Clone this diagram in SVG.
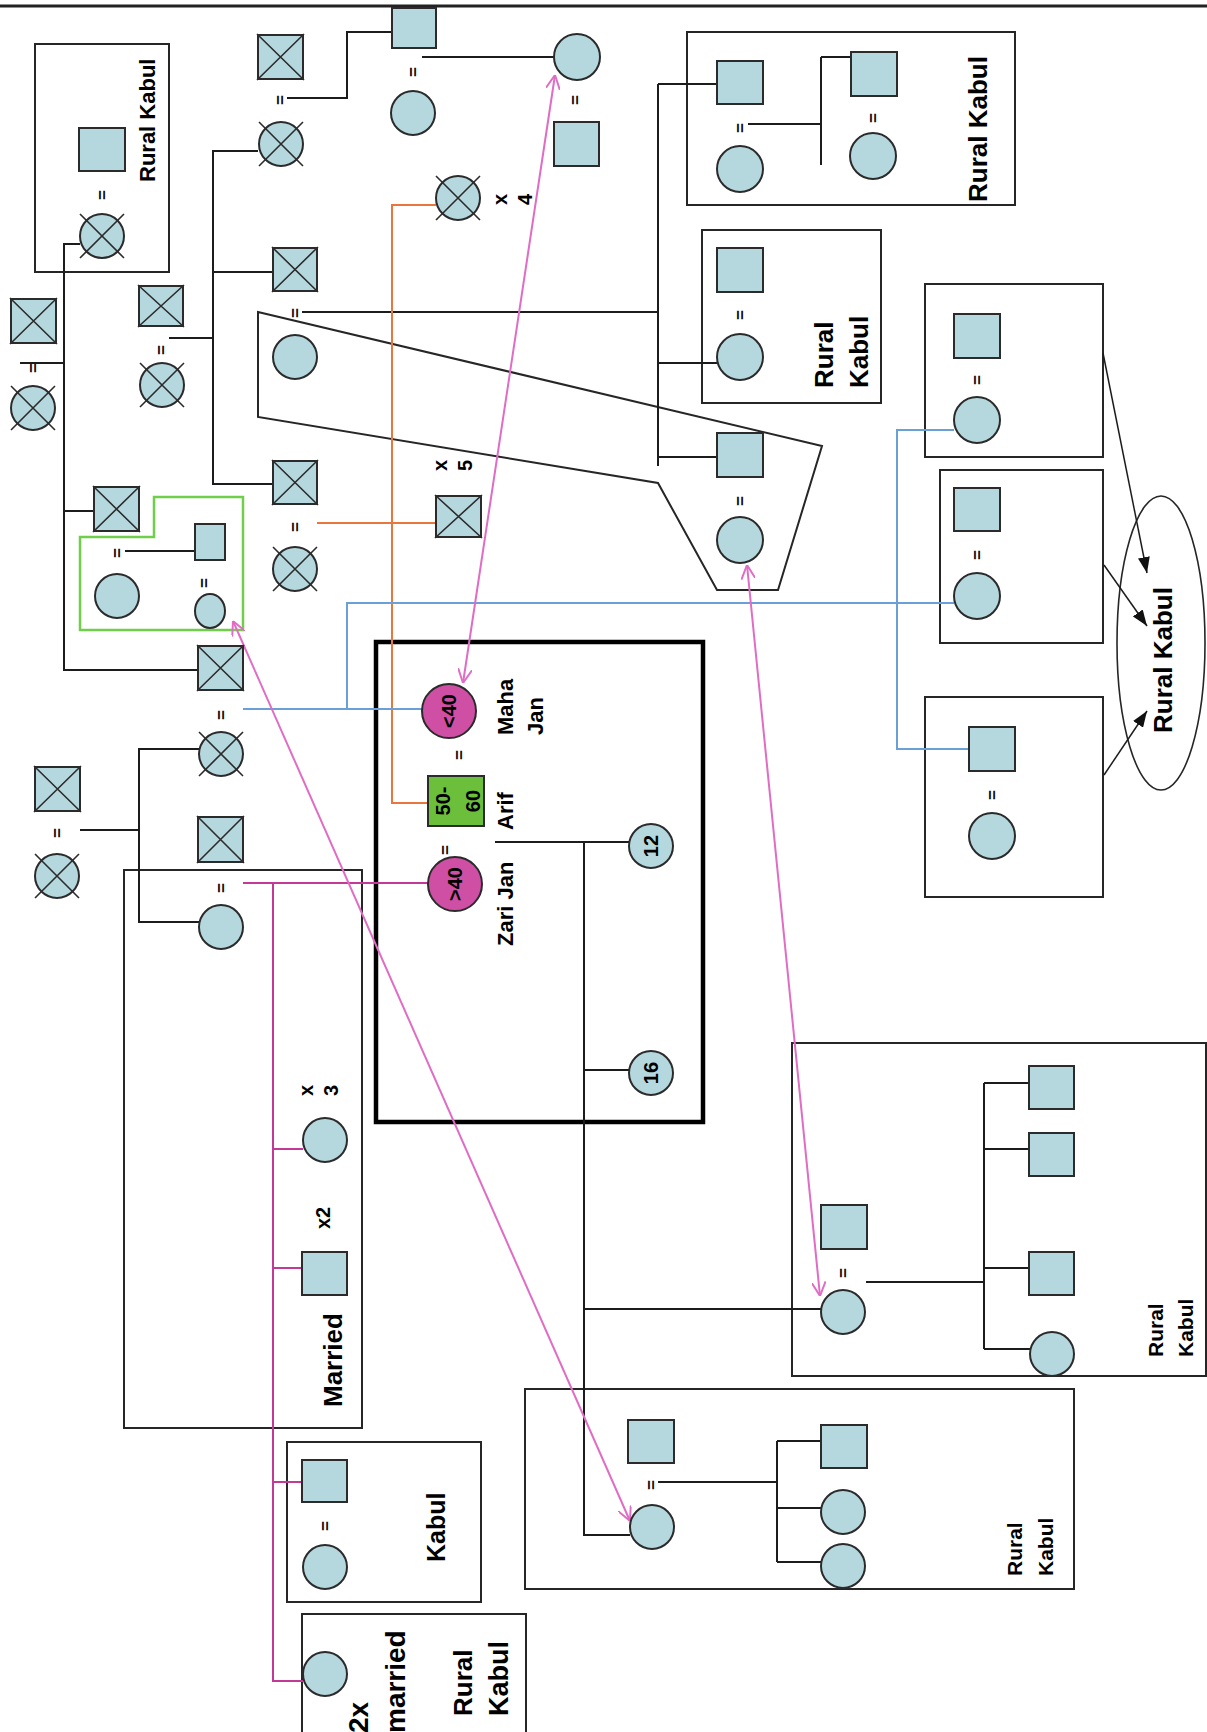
<svg xmlns="http://www.w3.org/2000/svg" width="1207" height="1732" viewBox="0 0 1207 1732">
<defs>
<style>
.n{fill:#b5d8de;stroke:#2b2b2b;stroke-width:2}
.xl{fill:none;stroke:#2b2b2b;stroke-width:1.6}
.mg-n{fill:#cf4fa5;stroke:#2b2b2b;stroke-width:2}
.gr-n{fill:#6cbf3a;stroke:#2b2b2b;stroke-width:2}
.bx{fill:none;stroke:#262626;stroke-width:2}
.ln{fill:none;stroke:#1c1c1c;stroke-width:2}
.or{fill:none;stroke:#e8763f;stroke-width:2}
.bl{fill:none;stroke:#6a9fd8;stroke-width:2}
.mg{fill:none;stroke:#c23a95;stroke-width:2}
.pk{fill:none;stroke:#e06cc4;stroke-width:2;marker-start:url(#pa);marker-end:url(#pa)}
.ar{fill:none;stroke:#1c1c1c;stroke-width:1.5;marker-end:url(#ba)}
.t{font-family:"Liberation Sans",Arial,sans-serif;font-weight:bold;fill:#000}
.eq{font-family:"Liberation Sans",Arial,sans-serif;font-size:17px;font-weight:bold;fill:#111;text-anchor:middle}
.c{text-anchor:middle}
</style>
<marker id="pa" viewBox="0 0 10 10" refX="10" refY="5" markerWidth="14" markerHeight="14" markerUnits="userSpaceOnUse" orient="auto-start-reverse"><path d="M0,0 L10,5 L0,10" fill="none" stroke="#e06cc4" stroke-width="1.4"/></marker>
<marker id="ba" viewBox="0 0 10 10" refX="10" refY="5" markerWidth="16" markerHeight="12" preserveAspectRatio="none" markerUnits="userSpaceOnUse" orient="auto"><path d="M0,0 L10,5 L0,10 z" fill="#111"/></marker>
</defs>
<rect width="1207" height="1732" fill="#fff"/>
<line x1="0" y1="6" x2="1207" y2="6" stroke="#222" stroke-width="3"/>

<g id="frames">
<rect class="bx" x="35" y="44" width="134" height="228"/>
<rect class="bx" x="687" y="32" width="328" height="173"/>
<rect class="bx" x="702" y="230" width="179" height="173"/>
<rect class="bx" x="925" y="284" width="178" height="173"/>
<rect class="bx" x="940" y="470" width="163" height="173"/>
<rect class="bx" x="925" y="697" width="178" height="200"/>
<rect class="bx" x="124" y="870" width="238" height="558"/>
<rect class="bx" x="287" y="1442" width="194" height="160"/>
<rect class="bx" x="302" y="1614" width="224" height="130"/>
<rect class="bx" x="525" y="1389" width="549" height="200"/>
<rect class="bx" x="792" y="1043" width="414" height="333"/>
<rect x="376" y="642" width="327" height="480" fill="none" stroke="#000" stroke-width="4.5"/>
<polygon class="bx" points="258,312 822,446 778,590 717,590 658,483 258,417"/>
<polygon points="154,497 243,497 243,630 80,630 80,537 154,537" fill="none" stroke="#6fcf4a" stroke-width="2.5"/>
<ellipse cx="1161" cy="643" rx="44" ry="147" fill="none" stroke="#262626" stroke-width="1.6"/>
</g>

<g id="connectors">
<path class="ln" d="M80,244 H64 V670 H198 M20,363 H64 M64,511 H94"/>
<path class="ln" d="M258,151 H213 V484 H273 M213,272 H273 M169,338 H213"/>
<path class="ln" d="M287,98 H347 V32 H392"/>
<path class="ln" d="M422,57 H554"/>
<path class="ln" d="M302,312 H658 M658,84 V466 M658,84 H717 M658,363 H717 M658,457 H717"/>
<path class="ln" d="M748,124 H821 M821,57 V165 M821,57 H851"/>
<path class="ln" d="M125,551 H195"/>
<path class="ln" d="M199,749 H139 V922 H199 M80,830 H139"/>
<path class="ln" d="M495,842 H629 M584,842 V1535 H630 M584,1070 H629 M584,1309 H821"/>
<path class="ln" d="M658,1482 H777 M777,1441 V1562 M777,1441 H821 M777,1508 H821 M777,1562 H821"/>
<path class="ln" d="M866,1282 H984 M984,1083 V1349 M984,1083 H1029 M984,1149 H1029 M984,1268 H1029 M984,1349 H1030"/>
<path class="or" d="M436,205 H392 V803 H428 M317,523 H436"/>
<path class="bl" d="M243,709 H422 M347,709 V603 H954 M954,430 H897 V749 H969"/>
<path class="mg" d="M243,883 H428 M273,883 V1681 H303 M273,1149 H303 M273,1268 H302 M273,1482 H302"/>
<line class="pk" x1="630" y1="1521" x2="233" y2="621"/>
<line class="pk" x1="463" y1="683" x2="555" y2="75"/>
<line class="pk" x1="820" y1="1296" x2="747" y2="565"/>
<line class="ar" x1="1103" y1="353" x2="1147" y2="573"/>
<line class="ar" x1="1104" y1="565" x2="1147" y2="626"/>
<line class="ar" x1="1104" y1="775" x2="1147" y2="711"/>
</g>

<g id="cs1"><rect class="n" x="258" y="35" width="45" height="44"/><path class="xl" d="M257,34 L304,80 M304,34 L257,80"/></g>
<g id="cs2"><rect class="n" x="11" y="299" width="45" height="44"/><path class="xl" d="M10,298 L57,344 M57,298 L10,344"/></g>
<g id="cs3"><rect class="n" x="139" y="286" width="44" height="40"/><path class="xl" d="M138,285 L184,327 M184,285 L138,327"/></g>
<g id="cs4"><rect class="n" x="273" y="248" width="44" height="43"/><path class="xl" d="M272,247 L318,292 M318,247 L272,292"/></g>
<g id="cs5"><rect class="n" x="273" y="461" width="44" height="43"/><path class="xl" d="M272,460 L318,505 M318,460 L272,505"/></g>
<g id="cs6"><rect class="n" x="94" y="487" width="45" height="44"/><path class="xl" d="M93,486 L140,532 M140,486 L93,532"/></g>
<g id="cs7"><rect class="n" x="198" y="646" width="45" height="44"/><path class="xl" d="M197,645 L244,691 M244,645 L197,691"/></g>
<g id="cs8"><rect class="n" x="35" y="767" width="45" height="44"/><path class="xl" d="M34,766 L81,812 M81,766 L34,812"/></g>
<g id="cs9"><rect class="n" x="198" y="817" width="45" height="45"/><path class="xl" d="M197,816 L244,863 M244,816 L197,863"/></g>
<g id="cs10"><rect class="n" x="436" y="496" width="45" height="41"/><path class="xl" d="M435,495 L482,538 M482,495 L435,538"/></g>

<g id="cc1"><circle class="n" cx="102" cy="236" r="22"/><path class="xl" d="M80,214 L124,258 M124,214 L80,258"/></g>
<g id="cc2"><circle class="n" cx="281" cy="144" r="22"/><path class="xl" d="M259,122 L303,166 M303,122 L259,166"/></g>
<g id="cc3"><circle class="n" cx="33" cy="408" r="22"/><path class="xl" d="M11,386 L55,430 M55,386 L11,430"/></g>
<g id="cc4"><circle class="n" cx="162" cy="385" r="22"/><path class="xl" d="M140,363 L184,407 M184,363 L140,407"/></g>
<g id="cc5"><circle class="n" cx="295" cy="569" r="22"/><path class="xl" d="M273,547 L317,591 M317,547 L273,591"/></g>
<g id="cc6"><circle class="n" cx="221" cy="754" r="22"/><path class="xl" d="M199,732 L243,776 M243,732 L199,776"/></g>
<g id="cc7"><circle class="n" cx="57" cy="876" r="22"/><path class="xl" d="M35,854 L79,898 M79,854 L35,898"/></g>
<g id="cc8"><circle class="n" cx="458" cy="198" r="22"/><path class="xl" d="M436,176 L480,220 M480,176 L436,220"/></g>

<g id="s1"><rect class="n" x="79" y="128" width="46" height="43"/></g>
<g id="s2"><rect class="n" x="392" y="8" width="44" height="40"/></g>
<g id="s3"><rect class="n" x="554" y="122" width="45" height="44"/></g>
<g id="s4"><rect class="n" x="717" y="61" width="46" height="43"/></g>
<g id="s5"><rect class="n" x="851" y="52" width="46" height="44"/></g>
<g id="s6"><rect class="n" x="717" y="248" width="46" height="44"/></g>
<g id="s7"><rect class="n" x="717" y="433" width="46" height="44"/></g>
<g id="s8"><rect class="n" x="954" y="314" width="46" height="44"/></g>
<g id="s9"><rect class="n" x="954" y="488" width="46" height="43"/></g>
<g id="s10"><rect class="n" x="969" y="727" width="46" height="44"/></g>
<g id="s11"><rect class="n" x="195" y="524" width="30" height="36"/></g>
<g id="s12"><rect class="n" x="302" y="1252" width="45" height="43"/></g>
<g id="s13"><rect class="n" x="302" y="1460" width="45" height="42"/></g>
<g id="s14"><rect class="n" x="628" y="1420" width="46" height="43"/></g>
<g id="s15"><rect class="n" x="821" y="1425" width="46" height="43"/></g>
<g id="s16"><rect class="n" x="821" y="1205" width="46" height="44"/></g>
<g id="s17"><rect class="n" x="1029" y="1066" width="45" height="43"/></g>
<g id="s18"><rect class="n" x="1029" y="1133" width="45" height="43"/></g>
<g id="s19"><rect class="n" x="1029" y="1252" width="45" height="43"/></g>

<g id="c1"><circle class="n" cx="413" cy="113" r="22"/></g>
<g id="c2"><circle class="n" cx="577" cy="57" r="23"/></g>
<g id="c3"><circle class="n" cx="295" cy="357" r="22"/></g>
<g id="c4"><circle class="n" cx="740" cy="169" r="23"/></g>
<g id="c5"><circle class="n" cx="873" cy="156" r="23"/></g>
<g id="c6"><circle class="n" cx="740" cy="357" r="23"/></g>
<g id="c7"><circle class="n" cx="740" cy="540" r="23"/></g>
<g id="c8"><circle class="n" cx="977" cy="420" r="23"/></g>
<g id="c9"><circle class="n" cx="977" cy="596" r="23"/></g>
<g id="c10"><circle class="n" cx="992" cy="836" r="23"/></g>
<g id="c11"><circle class="n" cx="117" cy="596" r="22"/></g>
<g id="c12"><ellipse class="n" cx="210" cy="611" rx="15" ry="17"/></g>
<g id="c13"><circle class="n" cx="221" cy="927" r="22"/></g>
<g id="c14"><circle class="n" cx="325" cy="1140" r="22"/></g>
<g id="c15"><circle class="n" cx="325" cy="1567" r="22"/></g>
<g id="c16"><circle class="n" cx="325" cy="1674" r="22"/></g>
<g id="c17"><circle class="n" cx="652" cy="1527" r="22"/></g>
<g id="c18"><circle class="n" cx="843" cy="1512" r="22"/></g>
<g id="c19"><circle class="n" cx="843" cy="1566" r="22"/></g>
<g id="c20"><circle class="n" cx="843" cy="1312" r="22"/></g>
<g id="c21"><circle class="n" cx="1052" cy="1354" r="22"/></g>

<g id="maha"><circle class="mg-n" cx="449" cy="711" r="27"/><text class="t c" font-size="20" transform="translate(449,711) rotate(-90)" dy="0.35em">&lt;40</text></g>
<g id="zari"><circle class="mg-n" cx="455" cy="884" r="27"/><text class="t c" font-size="20" transform="translate(455,884) rotate(-90)" dy="0.35em">&gt;40</text></g>
<g id="arif"><rect class="gr-n" x="428" y="776" width="56" height="50"/><text class="t c" font-size="20" transform="translate(450,801) rotate(-90)">50-</text><text class="t c" font-size="20" transform="translate(480,801) rotate(-90)">60</text></g>
<g id="n12"><circle class="n" cx="651" cy="846" r="22"/><text class="t c" font-size="20" transform="translate(651,846) rotate(-90)" dy="0.35em">12</text></g>
<g id="n16"><circle class="n" cx="651" cy="1073" r="22"/><text class="t c" font-size="20" transform="translate(651,1073) rotate(-90)" dy="0.35em">16</text></g>

<g id="equals">
<text class="eq" transform="translate(102,195) rotate(-90)" dy="0.35em">=</text>
<text class="eq" transform="translate(280,100) rotate(-90)" dy="0.35em">=</text>
<text class="eq" transform="translate(413,72) rotate(-90)" dy="0.35em">=</text>
<text class="eq" transform="translate(575,100) rotate(-90)" dy="0.35em">=</text>
<text class="eq" transform="translate(740,128) rotate(-90)" dy="0.35em">=</text>
<text class="eq" transform="translate(873,118) rotate(-90)" dy="0.35em">=</text>
<text class="eq" transform="translate(740,315) rotate(-90)" dy="0.35em">=</text>
<text class="eq" transform="translate(740,501) rotate(-90)" dy="0.35em">=</text>
<text class="eq" transform="translate(977,380) rotate(-90)" dy="0.35em">=</text>
<text class="eq" transform="translate(977,555) rotate(-90)" dy="0.35em">=</text>
<text class="eq" transform="translate(992,795) rotate(-90)" dy="0.35em">=</text>
<text class="eq" transform="translate(33,368) rotate(-90)" dy="0.35em">=</text>
<text class="eq" transform="translate(161,350) rotate(-90)" dy="0.35em">=</text>
<text class="eq" transform="translate(295,313) rotate(-90)" dy="0.35em">=</text>
<text class="eq" transform="translate(117,553) rotate(-90)" dy="0.35em">=</text>
<text class="eq" transform="translate(204,583) rotate(-90)" dy="0.35em">=</text>
<text class="eq" transform="translate(295,527) rotate(-90)" dy="0.35em">=</text>
<text class="eq" transform="translate(221,715) rotate(-90)" dy="0.35em">=</text>
<text class="eq" transform="translate(57,833) rotate(-90)" dy="0.35em">=</text>
<text class="eq" transform="translate(221,888) rotate(-90)" dy="0.35em">=</text>
<text class="eq" transform="translate(459,755) rotate(-90)" dy="0.35em">=</text>
<text class="eq" transform="translate(445,850) rotate(-90)" dy="0.35em">=</text>
<text class="eq" transform="translate(325,1526) rotate(-90)" dy="0.35em">=</text>
<text class="eq" transform="translate(651,1485) rotate(-90)" dy="0.35em">=</text>
<text class="eq" transform="translate(843,1273) rotate(-90)" dy="0.35em">=</text>
</g>

<g id="labels">
<text class="t" font-size="22" transform="translate(155,182) rotate(-90)">Rural Kabul</text>
<text class="t" font-size="26" transform="translate(987,202) rotate(-90)">Rural Kabul</text>
<text class="t" font-size="26" transform="translate(833,388) rotate(-90)">Rural</text>
<text class="t" font-size="26" transform="translate(868,388) rotate(-90)">Kabul</text>
<text class="t" font-size="26" transform="translate(1172,733) rotate(-90)">Rural Kabul</text>
<text class="t" font-size="21" transform="translate(1163,1357) rotate(-90)">Rural</text>
<text class="t" font-size="21" transform="translate(1193,1357) rotate(-90)">Kabul</text>
<text class="t" font-size="21" transform="translate(1022,1576) rotate(-90)">Rural</text>
<text class="t" font-size="21" transform="translate(1053,1576) rotate(-90)">Kabul</text>
<text class="t" font-size="26" transform="translate(342,1407) rotate(-90)">Married</text>
<text class="t" font-size="25" transform="translate(445,1562) rotate(-90)">Kabul</text>
<text class="t" font-size="28" transform="translate(368,1733) rotate(-90)">2x</text>
<text class="t" font-size="28" transform="translate(405,1733) rotate(-90)">married</text>
<text class="t" font-size="26" transform="translate(472,1716) rotate(-90)">Rural</text>
<text class="t" font-size="27" transform="translate(508,1716) rotate(-90)">Kabul</text>
<text class="t" font-size="22" transform="translate(513,735) rotate(-90)">Maha</text>
<text class="t" font-size="22" transform="translate(543,735) rotate(-90)">Jan</text>
<text class="t" font-size="22" transform="translate(513,830) rotate(-90)">Arif</text>
<text class="t" font-size="22" transform="translate(513,946) rotate(-90)">Zari Jan</text>
<text class="t" font-size="20" transform="translate(507,205) rotate(-90)">x</text>
<text class="t" font-size="20" transform="translate(532,205) rotate(-90)">4</text>
<text class="t" font-size="20" transform="translate(447,471) rotate(-90)">x</text>
<text class="t" font-size="20" transform="translate(472,471) rotate(-90)">5</text>
<text class="t" font-size="20" transform="translate(313,1096) rotate(-90)">x</text>
<text class="t" font-size="20" transform="translate(338,1096) rotate(-90)">3</text>
<text class="t" font-size="20" transform="translate(330,1229) rotate(-90)">x2</text>
</g>
</svg>
